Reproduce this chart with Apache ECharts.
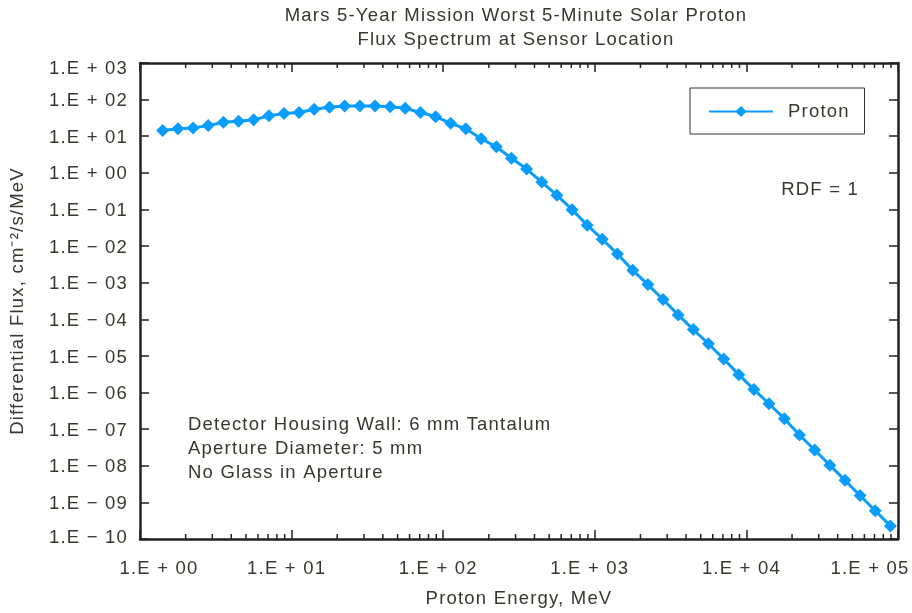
<!DOCTYPE html>
<html>
<head>
<meta charset="utf-8">
<script src="https://cdn.jsdelivr.net/npm/echarts@6/dist/echarts.min.js"></script>
<style>
html,body{margin:0;padding:0;background:#fff;}
#chart{width:912px;height:613px;}
</style>
</head>
<body>
<div id="chart"></div>
<script>
// ---- data ----
const energyMeV = [1.41, 1.78, 2.24, 2.82, 3.55, 4.47, 5.62, 7.08, 8.91, 11.2,
  14.1, 17.8, 22.4, 28.2, 35.5, 44.7, 56.2, 70.8, 89.1, 112,
  141, 178, 224, 282, 355, 447, 562, 708, 891, 1120,
  1410, 1780, 2240, 2820, 3550, 4470, 5620, 7080, 8910, 11200,
  14100, 17800, 22400, 28200, 35500, 44700, 56200, 70800, 89100];
const protonFlux = [14.3, 15.9, 16.9, 19.5, 24.0, 25.5, 28.1, 36.0, 41.7, 44.4,
  54.3, 61.5, 66.7, 66.7, 66.7, 64.1, 57.8, 44.4, 34.3, 22.5,
  15.9, 8.57, 5.14, 2.50, 1.27, 0.561, 0.245, 0.0989, 0.0373, 0.0154,
  6.11e-3, 2.20e-3, 8.89e-4, 3.47e-4, 1.32e-4, 5.24e-5, 2.15e-5, 8.26e-6, 3.08e-6, 1.22e-6,
  4.95e-7, 1.93e-7, 6.92e-8, 2.69e-8, 1.04e-8, 4.00e-9, 1.54e-9, 5.93e-10, 2.28e-10];
const xMin = 1, xMax = 1e5;
const yMin = 1e-10, yMax = 1e3;
const minorMultipliers = [2, 3, 4, 5, 6, 7, 8, 9];
const titleLines = ['Mars 5-Year Mission Worst 5-Minute Solar Proton', 'Flux Spectrum at Sensor Location'];
const noteLines = ['Detector Housing Wall: 6 mm Tantalum', 'Aperture Diameter: 5 mm', 'No Glass in Aperture'];

// slightly wider tracking, like the reference typesetting
(function () {
  const P = CanvasRenderingContext2D.prototype;
  const f = P.fillText;
  P.fillText = function () {
    try { this.letterSpacing = '1.2px'; } catch (e) {}
    return f.apply(this, arguments);
  };
})();

const minorX = [];
for (let e = 0; e < 5; e++) minorMultipliers.forEach(m => minorX.push(m * Math.pow(10, e)));

const FONT = '"Liberation Sans", Arial, Helvetica, sans-serif';
const FS = 18.5;
const TXT = '#38372c';
const AX = '#222';
const BLUE = '#0a9cff';

function expLabel(v) {
  const e = Math.round(Math.log10(v));
  const sign = e < 0 ? '\u2212' : '+';
  const a = Math.abs(e);
  return '1.E ' + sign + ' ' + (a < 10 ? '0' + a : '' + a);
}

const chart = echarts.init(document.getElementById('chart'), null, {renderer: 'canvas'});

const commonAxisLine = {show: true, lineStyle: {color: AX, width: 2.5}};
const tickStyle = {show: true, inside: true, length: 9, lineStyle: {color: AX, width: 1.5}};

const option = {
  animation: false,
  backgroundColor: '#fff',
  textStyle: {fontFamily: FONT, color: TXT},
  grid: {left: 134, right: 14, top: 63, bottom: 65, containLabel: false},
  legend: {
    data: ['Proton'],
    left: 690, top: 88,
    orient: 'horizontal',
    borderColor: '#333', borderWidth: 1,
    padding: [14, 22, 13, 18],
    itemWidth: 64, itemHeight: 14,
    textStyle: {fontFamily: FONT, fontSize: FS, color: TXT, padding: [0, 0, 0, 10]}
  },
  xAxis: [{
    type: 'log', logBase: 10, min: xMin, max: xMax, interval: 1,
    position: 'bottom',
    name: 'Proton Energy, MeV', nameLocation: 'middle', nameGap: 50,
    nameTextStyle: {fontFamily: FONT, fontSize: FS, color: TXT},
    axisLine: commonAxisLine,
    axisTick: tickStyle,
    splitLine: {show: false},
    axisLabel: {
      margin: 20, fontFamily: FONT, fontSize: FS, color: TXT,
      formatter: function (v) {
        const e = Math.round(Math.log10(v));
        if (e === 0) return '{first|' + expLabel(v) + '}';
        if (e === 5) return '{last|' + expLabel(v) + '}';
        return '{mid|' + expLabel(v) + '}';
      },
      rich: {
        first: {fontFamily: FONT, fontSize: FS, color: TXT, padding: [0, 0, 0, 38]},
        mid: {fontFamily: FONT, fontSize: FS, color: TXT, padding: [0, 10, 0, 0]},
        last: {fontFamily: FONT, fontSize: FS, color: TXT, padding: [0, 56, 0, 0]}
      }
    }
  }, {
    type: 'log', logBase: 10, min: xMin, max: xMax, interval: 1,
    position: 'top',
    axisLine: commonAxisLine,
    axisTick: tickStyle,
    axisLabel: {show: false},
    splitLine: {show: false}
  }],
  yAxis: [{
    type: 'log', logBase: 10, min: yMin, max: yMax, interval: 1, splitNumber: 13,
    position: 'left',
    name: 'Differential Flux, cm\u207B\u00B2/s/MeV', nameLocation: 'middle', nameGap: 113,
    nameTextStyle: {fontFamily: FONT, fontSize: FS, color: TXT},
    axisLine: commonAxisLine,
    axisTick: tickStyle,
    splitLine: {show: false},
    axisLabel: {
      margin: 12, fontFamily: FONT, fontSize: FS, color: TXT,
      formatter: function (v) {
        const e = Math.round(Math.log10(v));
        if (e === 3) return '{top|' + expLabel(v) + '}';
        if (e === -10) return '{bot|' + expLabel(v) + '}';
        return '{mid|' + expLabel(v) + '}';
      },
      rich: {
        top: {fontFamily: FONT, fontSize: FS, color: TXT, padding: [12, 0, 0, 0]},
        mid: {fontFamily: FONT, fontSize: FS, color: TXT, padding: [3, 0, 0, 0]},
        bot: {fontFamily: FONT, fontSize: FS, color: TXT, padding: [0, 0, 3, 0]}
      }
    }
  }, {
    type: 'log', logBase: 10, min: yMin, max: yMax, interval: 1, splitNumber: 13,
    position: 'right',
    axisLine: commonAxisLine,
    axisTick: tickStyle,
    axisLabel: {show: false},
    splitLine: {show: false}
  }],
  series: [{
    name: 'Proton',
    type: 'line',
    xAxisIndex: 0, yAxisIndex: 0,
    data: energyMeV.map((x, i) => [x, protonFlux[i]]),
    symbol: 'diamond', symbolSize: 13,
    itemStyle: {color: BLUE},
    lineStyle: {color: BLUE, width: 3},
    z: 5
  }, {
    name: 'minorTicks',
    type: 'custom',
    xAxisIndex: 0, yAxisIndex: 0,
    silent: true,
    clip: false,
    data: minorX.map(v => [v, yMin]),
    renderItem: function (params, api) {
      const v = api.value(0);
      const pb = api.coord([v, yMin]);
      const pt = api.coord([v, yMax]);
      const st = {stroke: AX, lineWidth: 1.5};
      return {
        type: 'group',
        children: [
          {type: 'line', shape: {x1: pb[0], y1: pb[1], x2: pb[0], y2: pb[1] - 5}, style: st},
          {type: 'line', shape: {x1: pt[0], y1: pt[1], x2: pt[0], y2: pt[1] + 5}, style: st}
        ]
      };
    },
    z: 3
  }],
  graphic: [
    {type: 'text', x: 516, y: 16, style: {text: titleLines[0], font: FS + 'px ' + FONT, fill: TXT, textAlign: 'center', textVerticalAlign: 'middle'}},
    {type: 'text', x: 516, y: 40, style: {text: titleLines[1], font: FS + 'px ' + FONT, fill: TXT, textAlign: 'center', textVerticalAlign: 'middle'}},
    {type: 'text', x: 859, y: 190, style: {text: 'RDF = 1', font: FS + 'px ' + FONT, fill: TXT, textAlign: 'right', textVerticalAlign: 'middle'}},
    {type: 'text', x: 188, y: 425, style: {text: noteLines[0], font: FS + 'px ' + FONT, fill: TXT, textAlign: 'left', textVerticalAlign: 'middle'}},
    {type: 'text', x: 188, y: 449, style: {text: noteLines[1], font: FS + 'px ' + FONT, fill: TXT, textAlign: 'left', textVerticalAlign: 'middle'}},
    {type: 'text', x: 188, y: 473, style: {text: noteLines[2], font: FS + 'px ' + FONT, fill: TXT, textAlign: 'left', textVerticalAlign: 'middle'}}
  ]
};
chart.setOption(option);
</script>
</body>
</html>
